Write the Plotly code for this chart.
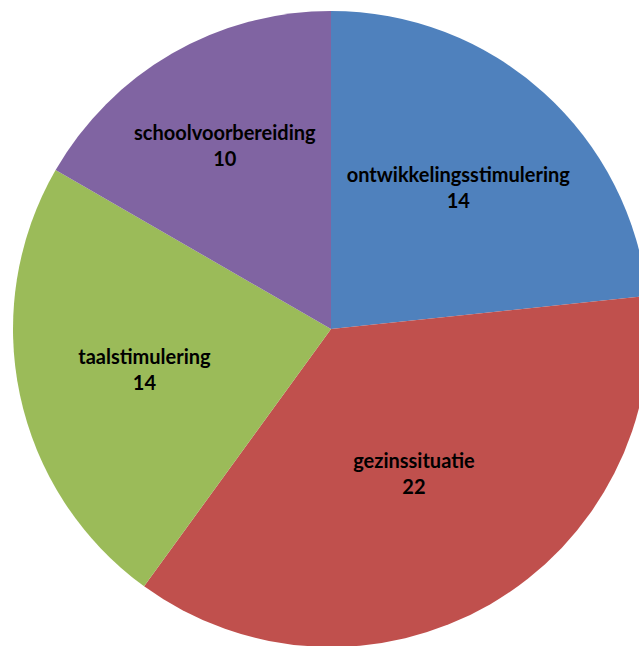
import plotly.graph_objects as go

labels = ["ontwikkelingsstimulering", "gezinssituatie", "taalstimulering", "schoolvoorbereiding"]
values = [14, 22, 14, 10]
colors = ["#4F81BD", "#C0504D", "#9BBB59", "#8064A2"]

fig = go.Figure(go.Pie(
    labels=labels,
    values=values,
    sort=False,
    direction="clockwise",
    rotation=0,
    marker=dict(colors=colors, line=dict(width=0)),
    texttemplate="<b>%{label}</b><br><b>%{value}</b>",
    textposition="inside",
    insidetextorientation="horizontal",
    textfont=dict(family="Lato", size=20, color="black"),
    hoverinfo="label+value",
    showlegend=False,
))

fig.update_layout(
    width=662,
    height=658,
    margin=dict(l=13, r=13, t=11, b=11),
    paper_bgcolor="white",
    plot_bgcolor="white",
    uniformtext=dict(minsize=20, mode="show"),
)

fig.write_html(
    "out.html",
    config={"displayModeBar": False},
    post_script="document.body.style.margin='0';document.body.style.overflow='hidden';",
)
